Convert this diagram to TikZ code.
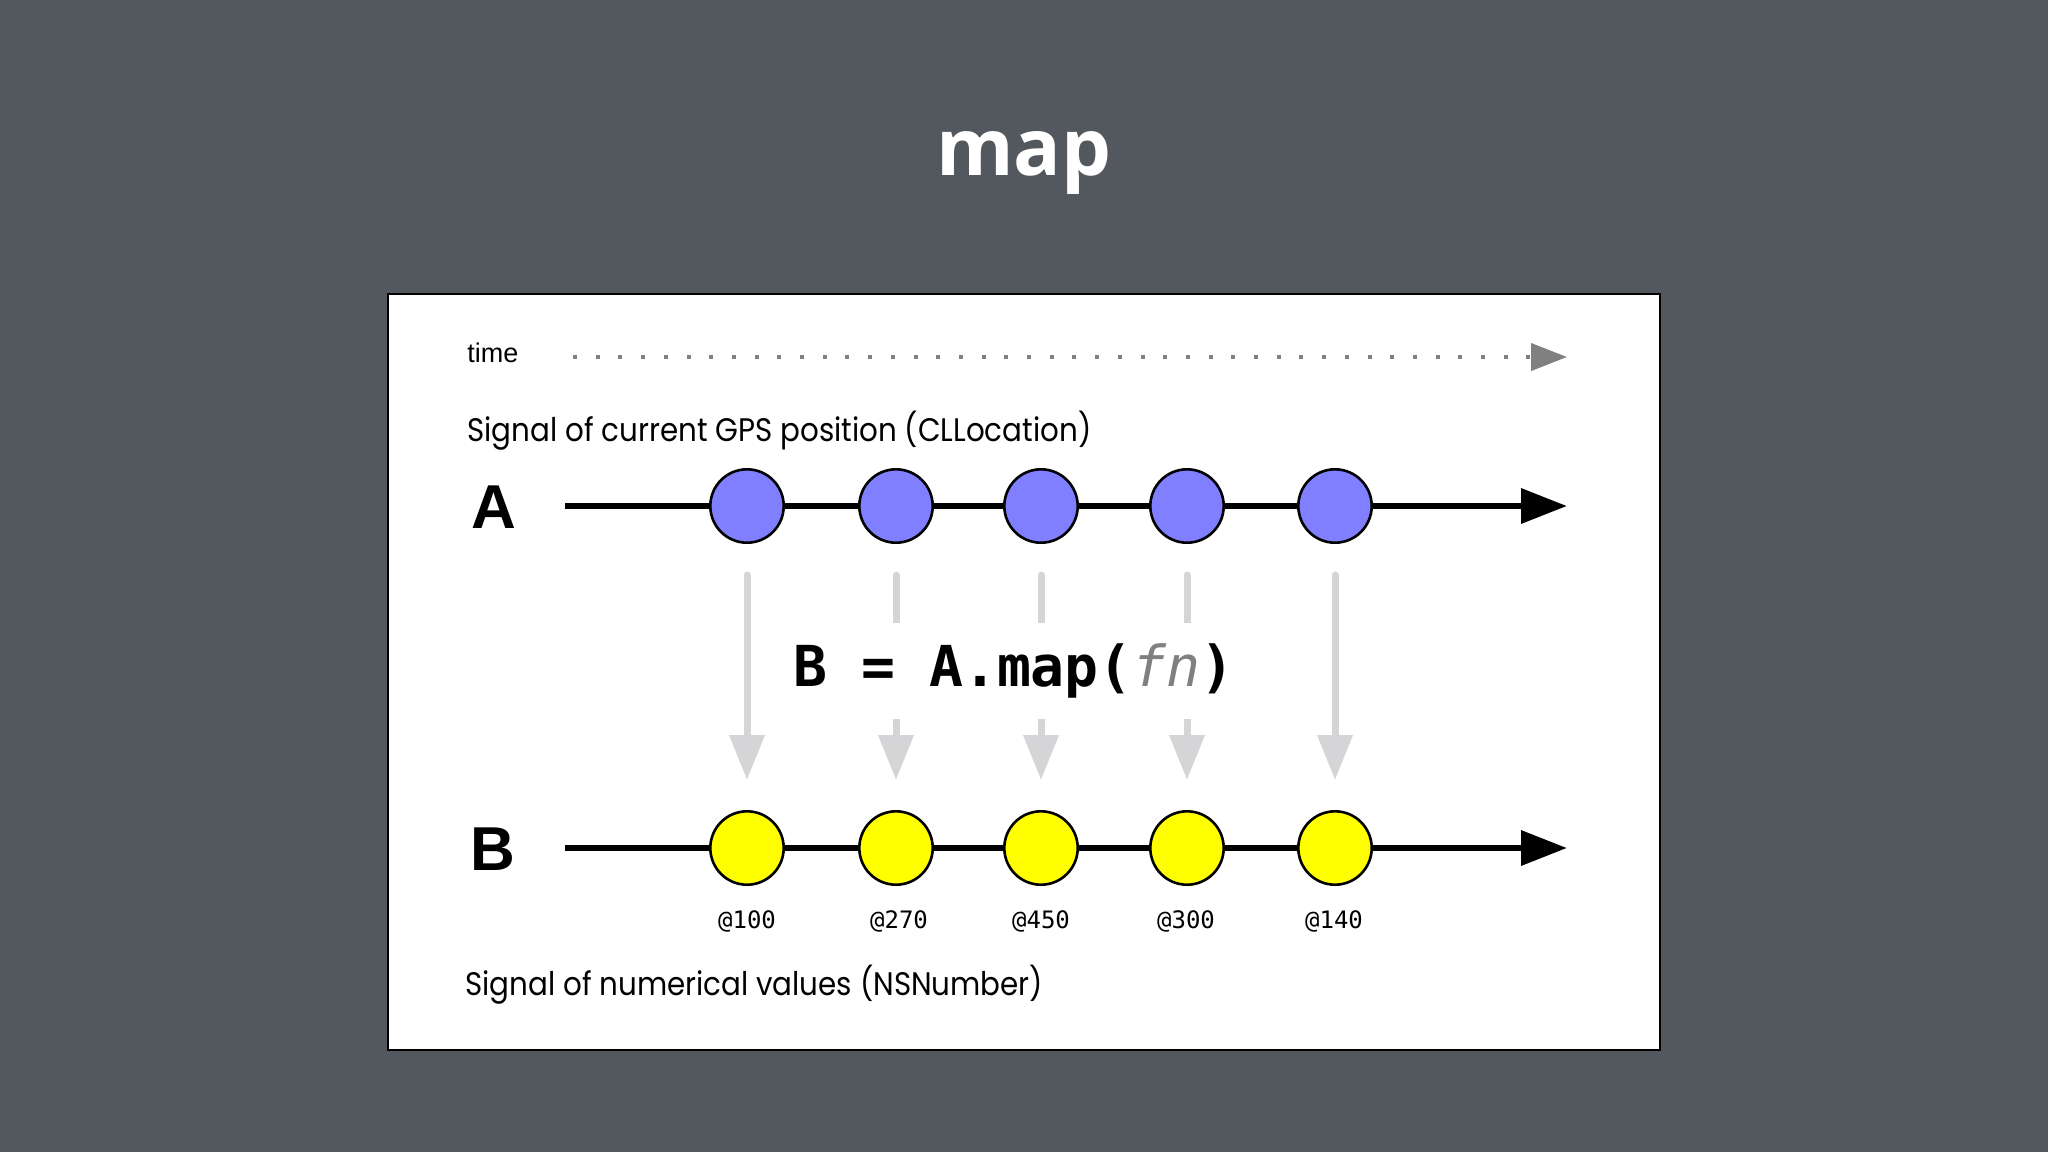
\documentclass[tikz,border=0pt]{standalone}
\usepackage{fontspec}
\setmainfont{Liberation Sans}
\setmonofont{DejaVu Sans Mono}
\newfontfamily\titlefont{Open Sans}
\newfontfamily\futfont[FakeStretch=0.9]{Poppins}
\usetikzlibrary{positioning,arrows.meta}
\definecolor{slate}{RGB}{83,87,94}
\definecolor{evblue}{RGB}{127,127,255}
\definecolor{evyellow}{RGB}{255,255,0}
\definecolor{mapgray}{RGB}{213,213,216}
\definecolor{timegray}{RGB}{128,128,128}

\begin{document}
\begin{tikzpicture}[x=0.5pt,y=-0.5pt,
  ball/.style={circle,draw,line width=1.3pt,minimum size=36.7pt,inner sep=0pt},
  evA/.style={ball,fill=evblue},
  evB/.style={ball,fill=evyellow},
  axisline/.style={line width=3.3pt,-{Triangle[length=23pt,width=17pt]}},
  timeline/.style={draw=timegray,line width=2pt,dash pattern=on 2pt off 9.35pt,-{Triangle[length=18pt,width=13.5pt]}},
  maparrow/.style={draw=mapgray,line width=3.5pt,line cap=round,-{Triangle[length=22.5pt,width=17pt,fill=mapgray]},shorten <=15.5pt,shorten >=15pt},
  sig/.style={font=\futfont\fontsize{16.3}{20}\selectfont,anchor=base west,inner sep=0pt},
  val/.style={font=\ttfamily\fontsize{12}{14}\selectfont,inner sep=0pt},
  lbl/.style={font=\bfseries\fontsize{31}{36}\selectfont,inner sep=0pt},
  code/.style={fill=white,font=\ttfamily\bfseries\fontsize{28.2}{34}\selectfont,minimum height=48pt,inner xsep=2pt}]
\useasboundingbox (0,0) rectangle (2048,1152);
\fill[slate] (0,0) rectangle (2048,1152);
\node[font=\titlefont\bfseries\fontsize{39.5}{46}\selectfont,text=white,anchor=base] (title) at (1024,175) {map};
\draw[line width=1.2pt,fill=white] (388,294) rectangle (1660,1050);
% time axis
\node[font=\fontsize{13.5}{16}\selectfont,anchor=base west,inner sep=0pt] (tm) at (467,362) {time};
\coordinate (t0) at (573,357);
\coordinate (t1) at (1567,357);
\draw[timeline] (t0)--(t1);
% signal A
\node[sig] (sa) at (467,441) {Signal of current GPS position (CLLocation)};
\node[lbl] (la) at (494,507) {A};
\coordinate (a0) at (565,506);
\coordinate (aend) at (1567,506);
\draw[axisline] (a0)--(aend);
\node[evA] (a1) at (747,506) {};
\node[evA] (a2) at (896,506) {};
\node[evA] (a3) at (1041,506) {};
\node[evA] (a4) at (1187,506) {};
\node[evA] (a5) at (1335,506) {};
% signal B
\node[lbl] (lb) at (493,849) {B};
\coordinate (b0) at (565,848);
\coordinate (bend) at (1567,848);
\draw[axisline] (b0)--(bend);
\node[evB] (b1) at (747,848) {};
\node[evB] (b2) at (896,848) {};
\node[evB] (b3) at (1041,848) {};
\node[evB] (b4) at (1187,848) {};
\node[evB] (b5) at (1335,848) {};
\node[val] (v1) at (747,921) {@100};
\node[val] (v2) at (899,921) {@270};
\node[val] (v3) at (1041,921) {@450};
\node[val] (v4) at (1186,921) {@300};
\node[val] (v5) at (1334,921) {@140};
\node[sig] (sb) at (465,995) {Signal of numerical values (NSNumber)};
% map arrows
\draw[maparrow] (a1)--(b1);
\draw[maparrow] (a2)--(b2);
\draw[maparrow] (a3)--(b3);
\draw[maparrow] (a4)--(b4);
\draw[maparrow] (a5)--(b5);
\node[code] (fn) at (1014,671) {B = A.map({\color{timegray}\mdseries\itshape fn})};
\end{tikzpicture}
\end{document}
